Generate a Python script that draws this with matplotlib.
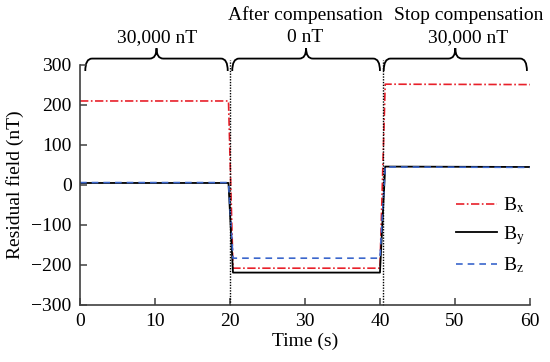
import matplotlib
matplotlib.use("Agg")
import matplotlib.pyplot as plt
from matplotlib.path import Path
from matplotlib.patches import PathPatch

plt.rcParams['font.family'] = ['Liberation Serif', 'DejaVu Serif']
plt.rcParams['mathtext.fontset'] = 'stix'
plt.rcParams['font.size'] = 14

# ---- data ----
time = [0, 19.8, 20.4, 40.0, 40.7, 60]
bx = [210, 210, -208, -208, 252, 251]
by = [5, 5, -219, -219, 46, 45]
bz = [6, 6, -183, -183, 45, 44]
series_labels = [r'B$_{\mathrm{x}}$', r'B$_{\mathrm{y}}$', r'B$_{\mathrm{z}}$']
switch_times = [20.0, 40.4]
segments = [(0.7, 19.7), (20.3, 40.0), (40.5, 59.6)]
segment_titles = ['30,000 nT', 'After compensation\n0 nT', 'Stop compensation\n30,000 nT']
title_x = [10.3, 30.0, 51.8]
xticks = [0, 10, 20, 30, 40, 50, 60]
yticks = [-300, -200, -100, 0, 100, 200, 300]

fig = plt.figure(figsize=(5.5, 3.62), dpi=100)
ax = fig.add_axes([0.1455, 0.1575, 0.818, 0.663])

ax.plot(time, bx, color='#e8202a', lw=1.2, ls=(0, (5, 1.5, 1, 1.5)), label=series_labels[0])
ax.plot(time, by, color='black', lw=1.3, ls='-', label=series_labels[1])
ax.plot(time, bz, color='#3a66cc', lw=1.2, ls=(0, (4, 3)), label=series_labels[2])

for t in switch_times:
    ax.plot([t, t], [-300, 312], color='black', lw=1.0, ls=(0, (1, 1)), clip_on=False)

def brace(ax, xa, xb, y_end=285, y_arm=316, y_tip=342, r=0.9):
    xm = (xa + xb) / 2.0
    verts = [(xa, y_end), (xa, y_arm), (xa + r, y_arm),
             (xm - r, y_arm),
             (xm, y_arm), (xm, y_tip),
             (xm, y_arm), (xm + r, y_arm),
             (xb - r, y_arm),
             (xb, y_arm), (xb, y_end)]
    codes = [Path.MOVETO, Path.CURVE3, Path.CURVE3,
             Path.LINETO,
             Path.CURVE3, Path.CURVE3,
             Path.CURVE3, Path.CURVE3,
             Path.LINETO,
             Path.CURVE3, Path.CURVE3]
    p = PathPatch(Path(verts, codes), fill=False, lw=1.3, ec='black', clip_on=False)
    ax.add_patch(p)

for (xa, xb) in segments:
    brace(ax, xa, xb)

for tx, txt in zip(title_x, segment_titles):
    ax.text(tx, 347, txt, ha='center', va='bottom', fontsize=14, linespacing=1.4, clip_on=False)

ax.set_xlim(0, 60)
ax.set_ylim(-300, 300)
ax.set_xticks(xticks)
ax.set_yticks(yticks)
ax.set_xlabel('Time (s)', labelpad=2)
ax.set_ylabel('Residual field (nT)', labelpad=5)

for s in ['top', 'right']:
    ax.spines[s].set_visible(False)
for s in ['left', 'bottom']:
    ax.spines[s].set_color('#404040')
    ax.spines[s].set_linewidth(1.2)
ax.tick_params(direction='in', length=5, width=1.1, color='#404040', pad=6)

ax.legend(loc='center right', bbox_to_anchor=(1.01, 0.29), frameon=False,
          handlelength=2.1, handletextpad=0.3, labelspacing=0.45, borderpad=0)

fig.savefig('out.png', dpi=100)
